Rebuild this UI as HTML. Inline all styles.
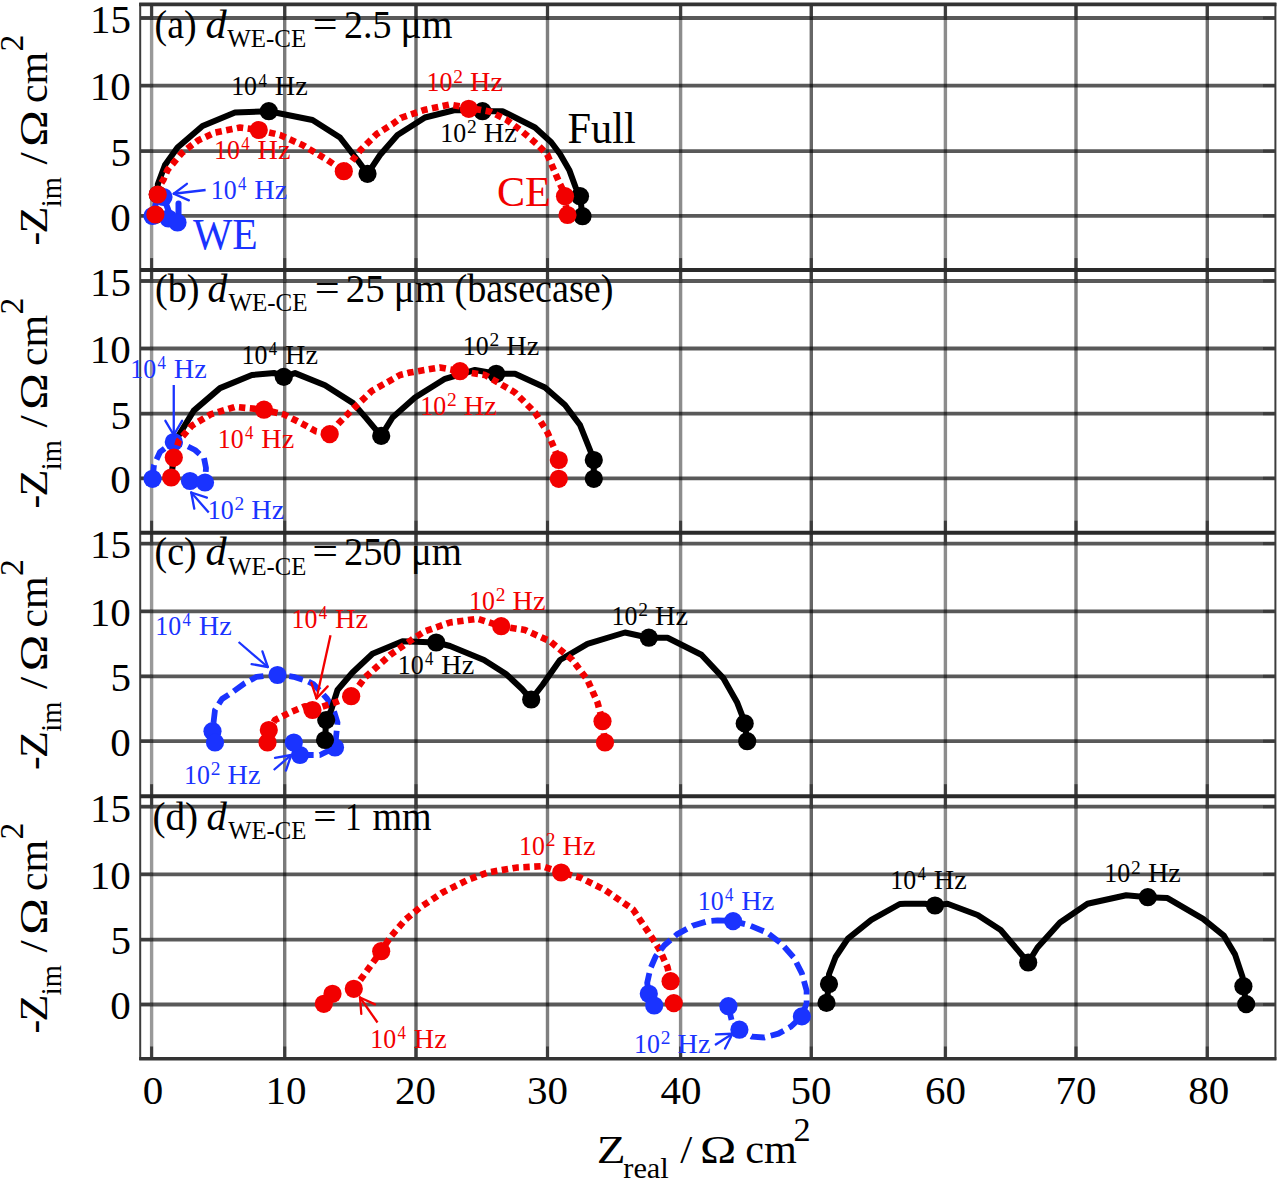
<!DOCTYPE html>
<html><head><meta charset="utf-8"><style>
html,body{margin:0;padding:0;background:#fff;}
svg{display:block;}
#w{width:1280px;height:1179px;}
text{font-family:"Liberation Serif",serif;}
</style></head><body>
<div id="w"><svg width="1280" height="1179" viewBox="0 0 1280 1179">
<rect width="1280" height="1179" fill="#fff"/>
<line x1="151.6" y1="4.4" x2="151.6" y2="1058.5" stroke="#000" stroke-opacity="0.4" stroke-width="3.4"/>
<line x1="284.7" y1="4.4" x2="284.7" y2="1058.5" stroke="#000" stroke-opacity="0.52" stroke-width="3.4"/>
<line x1="416.0" y1="4.4" x2="416.0" y2="1058.5" stroke="#000" stroke-opacity="0.58" stroke-width="3.4"/>
<line x1="547.5" y1="4.4" x2="547.5" y2="1058.5" stroke="#000" stroke-opacity="0.5" stroke-width="3.4"/>
<line x1="680.6" y1="4.4" x2="680.6" y2="1058.5" stroke="#000" stroke-opacity="0.45" stroke-width="3.4"/>
<line x1="811.3" y1="4.4" x2="811.3" y2="1058.5" stroke="#000" stroke-opacity="0.6" stroke-width="3.4"/>
<line x1="945.4" y1="4.4" x2="945.4" y2="1058.5" stroke="#000" stroke-opacity="0.45" stroke-width="3.4"/>
<line x1="1076.0" y1="4.4" x2="1076.0" y2="1058.5" stroke="#000" stroke-opacity="0.5" stroke-width="3.4"/>
<line x1="1207.3" y1="4.4" x2="1207.3" y2="1058.5" stroke="#000" stroke-opacity="0.56" stroke-width="3.4"/>
<line x1="140.2" y1="18.0" x2="1275.0" y2="18.0" stroke="#000" stroke-opacity="0.65" stroke-width="3.8"/>
<line x1="140.2" y1="85.6" x2="1275.0" y2="85.6" stroke="#000" stroke-opacity="0.65" stroke-width="3.8"/>
<line x1="140.2" y1="151.1" x2="1275.0" y2="151.1" stroke="#000" stroke-opacity="0.65" stroke-width="3.8"/>
<line x1="140.2" y1="215.8" x2="1275.0" y2="215.8" stroke="#000" stroke-opacity="0.65" stroke-width="3.8"/>
<line x1="140.2" y1="281.0" x2="1275.0" y2="281.0" stroke="#000" stroke-opacity="0.65" stroke-width="3.8"/>
<line x1="140.2" y1="348.5" x2="1275.0" y2="348.5" stroke="#000" stroke-opacity="0.65" stroke-width="3.8"/>
<line x1="140.2" y1="413.7" x2="1275.0" y2="413.7" stroke="#000" stroke-opacity="0.65" stroke-width="3.8"/>
<line x1="140.2" y1="478.3" x2="1275.0" y2="478.3" stroke="#000" stroke-opacity="0.65" stroke-width="3.8"/>
<line x1="140.2" y1="543.6" x2="1275.0" y2="543.6" stroke="#000" stroke-opacity="0.65" stroke-width="3.8"/>
<line x1="140.2" y1="611.4" x2="1275.0" y2="611.4" stroke="#000" stroke-opacity="0.65" stroke-width="3.8"/>
<line x1="140.2" y1="676.3" x2="1275.0" y2="676.3" stroke="#000" stroke-opacity="0.65" stroke-width="3.8"/>
<line x1="140.2" y1="741.2" x2="1275.0" y2="741.2" stroke="#000" stroke-opacity="0.65" stroke-width="3.8"/>
<line x1="140.2" y1="806.7" x2="1275.0" y2="806.7" stroke="#000" stroke-opacity="0.65" stroke-width="3.8"/>
<line x1="140.2" y1="874.3" x2="1275.0" y2="874.3" stroke="#000" stroke-opacity="0.65" stroke-width="3.8"/>
<line x1="140.2" y1="939.6" x2="1275.0" y2="939.6" stroke="#000" stroke-opacity="0.65" stroke-width="3.8"/>
<line x1="140.2" y1="1004.5" x2="1275.0" y2="1004.5" stroke="#000" stroke-opacity="0.65" stroke-width="3.8"/>
<line x1="140.2" y1="18.0" x2="152.2" y2="18.0" stroke="#3c3c3c" stroke-width="3"/>
<line x1="1263.0" y1="18.0" x2="1275.0" y2="18.0" stroke="#3c3c3c" stroke-width="3"/>
<line x1="140.2" y1="85.6" x2="152.2" y2="85.6" stroke="#3c3c3c" stroke-width="3"/>
<line x1="1263.0" y1="85.6" x2="1275.0" y2="85.6" stroke="#3c3c3c" stroke-width="3"/>
<line x1="140.2" y1="151.1" x2="152.2" y2="151.1" stroke="#3c3c3c" stroke-width="3"/>
<line x1="1263.0" y1="151.1" x2="1275.0" y2="151.1" stroke="#3c3c3c" stroke-width="3"/>
<line x1="140.2" y1="215.8" x2="152.2" y2="215.8" stroke="#3c3c3c" stroke-width="3"/>
<line x1="1263.0" y1="215.8" x2="1275.0" y2="215.8" stroke="#3c3c3c" stroke-width="3"/>
<line x1="151.6" y1="270.1" x2="151.6" y2="258.1" stroke="#3c3c3c" stroke-width="3"/>
<line x1="151.6" y1="4.4" x2="151.6" y2="16.4" stroke="#3c3c3c" stroke-width="3"/>
<line x1="284.7" y1="270.1" x2="284.7" y2="258.1" stroke="#3c3c3c" stroke-width="3"/>
<line x1="284.7" y1="4.4" x2="284.7" y2="16.4" stroke="#3c3c3c" stroke-width="3"/>
<line x1="416.0" y1="270.1" x2="416.0" y2="258.1" stroke="#3c3c3c" stroke-width="3"/>
<line x1="416.0" y1="4.4" x2="416.0" y2="16.4" stroke="#3c3c3c" stroke-width="3"/>
<line x1="547.5" y1="270.1" x2="547.5" y2="258.1" stroke="#3c3c3c" stroke-width="3"/>
<line x1="547.5" y1="4.4" x2="547.5" y2="16.4" stroke="#3c3c3c" stroke-width="3"/>
<line x1="680.6" y1="270.1" x2="680.6" y2="258.1" stroke="#3c3c3c" stroke-width="3"/>
<line x1="680.6" y1="4.4" x2="680.6" y2="16.4" stroke="#3c3c3c" stroke-width="3"/>
<line x1="811.3" y1="270.1" x2="811.3" y2="258.1" stroke="#3c3c3c" stroke-width="3"/>
<line x1="811.3" y1="4.4" x2="811.3" y2="16.4" stroke="#3c3c3c" stroke-width="3"/>
<line x1="945.4" y1="270.1" x2="945.4" y2="258.1" stroke="#3c3c3c" stroke-width="3"/>
<line x1="945.4" y1="4.4" x2="945.4" y2="16.4" stroke="#3c3c3c" stroke-width="3"/>
<line x1="1076.0" y1="270.1" x2="1076.0" y2="258.1" stroke="#3c3c3c" stroke-width="3"/>
<line x1="1076.0" y1="4.4" x2="1076.0" y2="16.4" stroke="#3c3c3c" stroke-width="3"/>
<line x1="1207.3" y1="270.1" x2="1207.3" y2="258.1" stroke="#3c3c3c" stroke-width="3"/>
<line x1="1207.3" y1="4.4" x2="1207.3" y2="16.4" stroke="#3c3c3c" stroke-width="3"/>
<line x1="140.2" y1="281.0" x2="152.2" y2="281.0" stroke="#3c3c3c" stroke-width="3"/>
<line x1="1263.0" y1="281.0" x2="1275.0" y2="281.0" stroke="#3c3c3c" stroke-width="3"/>
<line x1="140.2" y1="348.5" x2="152.2" y2="348.5" stroke="#3c3c3c" stroke-width="3"/>
<line x1="1263.0" y1="348.5" x2="1275.0" y2="348.5" stroke="#3c3c3c" stroke-width="3"/>
<line x1="140.2" y1="413.7" x2="152.2" y2="413.7" stroke="#3c3c3c" stroke-width="3"/>
<line x1="1263.0" y1="413.7" x2="1275.0" y2="413.7" stroke="#3c3c3c" stroke-width="3"/>
<line x1="140.2" y1="478.3" x2="152.2" y2="478.3" stroke="#3c3c3c" stroke-width="3"/>
<line x1="1263.0" y1="478.3" x2="1275.0" y2="478.3" stroke="#3c3c3c" stroke-width="3"/>
<line x1="151.6" y1="532.7" x2="151.6" y2="520.7" stroke="#3c3c3c" stroke-width="3"/>
<line x1="151.6" y1="270.1" x2="151.6" y2="282.1" stroke="#3c3c3c" stroke-width="3"/>
<line x1="284.7" y1="532.7" x2="284.7" y2="520.7" stroke="#3c3c3c" stroke-width="3"/>
<line x1="284.7" y1="270.1" x2="284.7" y2="282.1" stroke="#3c3c3c" stroke-width="3"/>
<line x1="416.0" y1="532.7" x2="416.0" y2="520.7" stroke="#3c3c3c" stroke-width="3"/>
<line x1="416.0" y1="270.1" x2="416.0" y2="282.1" stroke="#3c3c3c" stroke-width="3"/>
<line x1="547.5" y1="532.7" x2="547.5" y2="520.7" stroke="#3c3c3c" stroke-width="3"/>
<line x1="547.5" y1="270.1" x2="547.5" y2="282.1" stroke="#3c3c3c" stroke-width="3"/>
<line x1="680.6" y1="532.7" x2="680.6" y2="520.7" stroke="#3c3c3c" stroke-width="3"/>
<line x1="680.6" y1="270.1" x2="680.6" y2="282.1" stroke="#3c3c3c" stroke-width="3"/>
<line x1="811.3" y1="532.7" x2="811.3" y2="520.7" stroke="#3c3c3c" stroke-width="3"/>
<line x1="811.3" y1="270.1" x2="811.3" y2="282.1" stroke="#3c3c3c" stroke-width="3"/>
<line x1="945.4" y1="532.7" x2="945.4" y2="520.7" stroke="#3c3c3c" stroke-width="3"/>
<line x1="945.4" y1="270.1" x2="945.4" y2="282.1" stroke="#3c3c3c" stroke-width="3"/>
<line x1="1076.0" y1="532.7" x2="1076.0" y2="520.7" stroke="#3c3c3c" stroke-width="3"/>
<line x1="1076.0" y1="270.1" x2="1076.0" y2="282.1" stroke="#3c3c3c" stroke-width="3"/>
<line x1="1207.3" y1="532.7" x2="1207.3" y2="520.7" stroke="#3c3c3c" stroke-width="3"/>
<line x1="1207.3" y1="270.1" x2="1207.3" y2="282.1" stroke="#3c3c3c" stroke-width="3"/>
<line x1="140.2" y1="543.6" x2="152.2" y2="543.6" stroke="#3c3c3c" stroke-width="3"/>
<line x1="1263.0" y1="543.6" x2="1275.0" y2="543.6" stroke="#3c3c3c" stroke-width="3"/>
<line x1="140.2" y1="611.4" x2="152.2" y2="611.4" stroke="#3c3c3c" stroke-width="3"/>
<line x1="1263.0" y1="611.4" x2="1275.0" y2="611.4" stroke="#3c3c3c" stroke-width="3"/>
<line x1="140.2" y1="676.3" x2="152.2" y2="676.3" stroke="#3c3c3c" stroke-width="3"/>
<line x1="1263.0" y1="676.3" x2="1275.0" y2="676.3" stroke="#3c3c3c" stroke-width="3"/>
<line x1="140.2" y1="741.2" x2="152.2" y2="741.2" stroke="#3c3c3c" stroke-width="3"/>
<line x1="1263.0" y1="741.2" x2="1275.0" y2="741.2" stroke="#3c3c3c" stroke-width="3"/>
<line x1="151.6" y1="796.2" x2="151.6" y2="784.2" stroke="#3c3c3c" stroke-width="3"/>
<line x1="151.6" y1="532.7" x2="151.6" y2="544.7" stroke="#3c3c3c" stroke-width="3"/>
<line x1="284.7" y1="796.2" x2="284.7" y2="784.2" stroke="#3c3c3c" stroke-width="3"/>
<line x1="284.7" y1="532.7" x2="284.7" y2="544.7" stroke="#3c3c3c" stroke-width="3"/>
<line x1="416.0" y1="796.2" x2="416.0" y2="784.2" stroke="#3c3c3c" stroke-width="3"/>
<line x1="416.0" y1="532.7" x2="416.0" y2="544.7" stroke="#3c3c3c" stroke-width="3"/>
<line x1="547.5" y1="796.2" x2="547.5" y2="784.2" stroke="#3c3c3c" stroke-width="3"/>
<line x1="547.5" y1="532.7" x2="547.5" y2="544.7" stroke="#3c3c3c" stroke-width="3"/>
<line x1="680.6" y1="796.2" x2="680.6" y2="784.2" stroke="#3c3c3c" stroke-width="3"/>
<line x1="680.6" y1="532.7" x2="680.6" y2="544.7" stroke="#3c3c3c" stroke-width="3"/>
<line x1="811.3" y1="796.2" x2="811.3" y2="784.2" stroke="#3c3c3c" stroke-width="3"/>
<line x1="811.3" y1="532.7" x2="811.3" y2="544.7" stroke="#3c3c3c" stroke-width="3"/>
<line x1="945.4" y1="796.2" x2="945.4" y2="784.2" stroke="#3c3c3c" stroke-width="3"/>
<line x1="945.4" y1="532.7" x2="945.4" y2="544.7" stroke="#3c3c3c" stroke-width="3"/>
<line x1="1076.0" y1="796.2" x2="1076.0" y2="784.2" stroke="#3c3c3c" stroke-width="3"/>
<line x1="1076.0" y1="532.7" x2="1076.0" y2="544.7" stroke="#3c3c3c" stroke-width="3"/>
<line x1="1207.3" y1="796.2" x2="1207.3" y2="784.2" stroke="#3c3c3c" stroke-width="3"/>
<line x1="1207.3" y1="532.7" x2="1207.3" y2="544.7" stroke="#3c3c3c" stroke-width="3"/>
<line x1="140.2" y1="806.7" x2="152.2" y2="806.7" stroke="#3c3c3c" stroke-width="3"/>
<line x1="1263.0" y1="806.7" x2="1275.0" y2="806.7" stroke="#3c3c3c" stroke-width="3"/>
<line x1="140.2" y1="874.3" x2="152.2" y2="874.3" stroke="#3c3c3c" stroke-width="3"/>
<line x1="1263.0" y1="874.3" x2="1275.0" y2="874.3" stroke="#3c3c3c" stroke-width="3"/>
<line x1="140.2" y1="939.6" x2="152.2" y2="939.6" stroke="#3c3c3c" stroke-width="3"/>
<line x1="1263.0" y1="939.6" x2="1275.0" y2="939.6" stroke="#3c3c3c" stroke-width="3"/>
<line x1="140.2" y1="1004.5" x2="152.2" y2="1004.5" stroke="#3c3c3c" stroke-width="3"/>
<line x1="1263.0" y1="1004.5" x2="1275.0" y2="1004.5" stroke="#3c3c3c" stroke-width="3"/>
<line x1="151.6" y1="1058.5" x2="151.6" y2="1046.5" stroke="#3c3c3c" stroke-width="3"/>
<line x1="151.6" y1="796.2" x2="151.6" y2="808.2" stroke="#3c3c3c" stroke-width="3"/>
<line x1="284.7" y1="1058.5" x2="284.7" y2="1046.5" stroke="#3c3c3c" stroke-width="3"/>
<line x1="284.7" y1="796.2" x2="284.7" y2="808.2" stroke="#3c3c3c" stroke-width="3"/>
<line x1="416.0" y1="1058.5" x2="416.0" y2="1046.5" stroke="#3c3c3c" stroke-width="3"/>
<line x1="416.0" y1="796.2" x2="416.0" y2="808.2" stroke="#3c3c3c" stroke-width="3"/>
<line x1="547.5" y1="1058.5" x2="547.5" y2="1046.5" stroke="#3c3c3c" stroke-width="3"/>
<line x1="547.5" y1="796.2" x2="547.5" y2="808.2" stroke="#3c3c3c" stroke-width="3"/>
<line x1="680.6" y1="1058.5" x2="680.6" y2="1046.5" stroke="#3c3c3c" stroke-width="3"/>
<line x1="680.6" y1="796.2" x2="680.6" y2="808.2" stroke="#3c3c3c" stroke-width="3"/>
<line x1="811.3" y1="1058.5" x2="811.3" y2="1046.5" stroke="#3c3c3c" stroke-width="3"/>
<line x1="811.3" y1="796.2" x2="811.3" y2="808.2" stroke="#3c3c3c" stroke-width="3"/>
<line x1="945.4" y1="1058.5" x2="945.4" y2="1046.5" stroke="#3c3c3c" stroke-width="3"/>
<line x1="945.4" y1="796.2" x2="945.4" y2="808.2" stroke="#3c3c3c" stroke-width="3"/>
<line x1="1076.0" y1="1058.5" x2="1076.0" y2="1046.5" stroke="#3c3c3c" stroke-width="3"/>
<line x1="1076.0" y1="796.2" x2="1076.0" y2="808.2" stroke="#3c3c3c" stroke-width="3"/>
<line x1="1207.3" y1="1058.5" x2="1207.3" y2="1046.5" stroke="#3c3c3c" stroke-width="3"/>
<line x1="1207.3" y1="796.2" x2="1207.3" y2="808.2" stroke="#3c3c3c" stroke-width="3"/>
<line x1="140.2" y1="2.9000000000000004" x2="140.2" y2="1060.0" stroke="#3c3c3c" stroke-width="2"/>
<line x1="1275.4" y1="2.9000000000000004" x2="1275.4" y2="1060.0" stroke="#3c3c3c" stroke-width="2"/>
<line x1="139.2" y1="4.4" x2="1276.4" y2="4.4" stroke="#333" stroke-width="3.6"/>
<line x1="139.2" y1="1058.8" x2="1276.4" y2="1058.8" stroke="#333" stroke-width="3.6"/>
<line x1="140.2" y1="270.1" x2="1275.0" y2="270.1" stroke="#2a2a2a" stroke-width="4"/>
<line x1="140.2" y1="532.7" x2="1275.0" y2="532.7" stroke="#2a2a2a" stroke-width="4"/>
<line x1="140.2" y1="796.2" x2="1275.0" y2="796.2" stroke="#2a2a2a" stroke-width="4"/>
<text x="89.90" y="32.80" font-size="41" fill="#000">15</text>
<text x="89.86" y="100.40" font-size="41" fill="#000">10</text>
<text x="110.40" y="165.90" font-size="41" fill="#000">5</text>
<text x="110.36" y="230.60" font-size="41" fill="#000">0</text>
<text x="89.90" y="295.80" font-size="41" fill="#000">15</text>
<text x="89.86" y="363.30" font-size="41" fill="#000">10</text>
<text x="110.40" y="428.50" font-size="41" fill="#000">5</text>
<text x="110.36" y="493.10" font-size="41" fill="#000">0</text>
<text x="89.90" y="558.40" font-size="41" fill="#000">15</text>
<text x="89.86" y="626.20" font-size="41" fill="#000">10</text>
<text x="110.40" y="691.10" font-size="41" fill="#000">5</text>
<text x="110.36" y="756.00" font-size="41" fill="#000">0</text>
<text x="89.90" y="821.50" font-size="41" fill="#000">15</text>
<text x="89.86" y="889.10" font-size="41" fill="#000">10</text>
<text x="110.40" y="954.40" font-size="41" fill="#000">5</text>
<text x="110.36" y="1019.30" font-size="41" fill="#000">0</text>
<text x="142.85" y="1103.60" font-size="41" fill="#000">0</text>
<text x="265.38" y="1103.60" font-size="41" fill="#000">10</text>
<text x="394.98" y="1103.60" font-size="41" fill="#000">20</text>
<text x="527.10" y="1103.60" font-size="41" fill="#000">30</text>
<text x="660.58" y="1103.60" font-size="41" fill="#000">40</text>
<text x="790.59" y="1103.60" font-size="41" fill="#000">50</text>
<text x="925.10" y="1103.60" font-size="41" fill="#000">60</text>
<text x="1055.43" y="1103.60" font-size="41" fill="#000">70</text>
<text x="1188.20" y="1103.60" font-size="41" fill="#000">80</text>
<text x="596.74" y="1162.50" font-size="41" fill="#000" textLength="28.84" lengthAdjust="spacingAndGlyphs">Z</text>
<text x="623.29" y="1177.50" font-size="30" fill="#000" textLength="45.52" lengthAdjust="spacingAndGlyphs">real</text>
<text x="680.20" y="1162.50" font-size="41" fill="#000" textLength="12.00" lengthAdjust="spacingAndGlyphs">/</text>
<text x="699.98" y="1162.50" font-size="41" fill="#000" textLength="36.25" lengthAdjust="spacingAndGlyphs">Ω</text>
<text x="745.29" y="1162.50" font-size="41" fill="#000" textLength="51.57" lengthAdjust="spacingAndGlyphs">cm</text>
<text x="793.49" y="1140.60" font-size="33" fill="#000" textLength="17.15" lengthAdjust="spacingAndGlyphs">2</text>
<g transform="translate(46.5,244.0) rotate(-90)">
<text x="-1.53" y="0.00" font-size="41" fill="#000" textLength="13.72" lengthAdjust="spacingAndGlyphs">-</text>
<text x="10.48" y="0.00" font-size="41" fill="#000" textLength="27.04" lengthAdjust="spacingAndGlyphs">Z</text>
<text x="36.80" y="14.80" font-size="30" fill="#000" textLength="30.04" lengthAdjust="spacingAndGlyphs">im</text>
<text x="79.40" y="0.00" font-size="41" fill="#000" textLength="12.20" lengthAdjust="spacingAndGlyphs">/</text>
<text x="97.25" y="0.00" font-size="41" fill="#000" textLength="36.60" lengthAdjust="spacingAndGlyphs">Ω</text>
<text x="140.91" y="0.00" font-size="41" fill="#000" textLength="51.15" lengthAdjust="spacingAndGlyphs">cm</text>
<text x="192.52" y="-23.10" font-size="33" fill="#000" textLength="16.84" lengthAdjust="spacingAndGlyphs">2</text>
</g>
<g transform="translate(46.5,507.0) rotate(-90)">
<text x="-1.53" y="0.00" font-size="41" fill="#000" textLength="13.72" lengthAdjust="spacingAndGlyphs">-</text>
<text x="10.48" y="0.00" font-size="41" fill="#000" textLength="27.04" lengthAdjust="spacingAndGlyphs">Z</text>
<text x="36.80" y="14.80" font-size="30" fill="#000" textLength="30.04" lengthAdjust="spacingAndGlyphs">im</text>
<text x="79.40" y="0.00" font-size="41" fill="#000" textLength="12.20" lengthAdjust="spacingAndGlyphs">/</text>
<text x="97.25" y="0.00" font-size="41" fill="#000" textLength="36.60" lengthAdjust="spacingAndGlyphs">Ω</text>
<text x="140.91" y="0.00" font-size="41" fill="#000" textLength="51.15" lengthAdjust="spacingAndGlyphs">cm</text>
<text x="192.52" y="-23.10" font-size="33" fill="#000" textLength="16.84" lengthAdjust="spacingAndGlyphs">2</text>
</g>
<g transform="translate(46.5,768.5) rotate(-90)">
<text x="-1.53" y="0.00" font-size="41" fill="#000" textLength="13.72" lengthAdjust="spacingAndGlyphs">-</text>
<text x="10.48" y="0.00" font-size="41" fill="#000" textLength="27.04" lengthAdjust="spacingAndGlyphs">Z</text>
<text x="36.80" y="14.80" font-size="30" fill="#000" textLength="30.04" lengthAdjust="spacingAndGlyphs">im</text>
<text x="79.40" y="0.00" font-size="41" fill="#000" textLength="12.20" lengthAdjust="spacingAndGlyphs">/</text>
<text x="97.25" y="0.00" font-size="41" fill="#000" textLength="36.60" lengthAdjust="spacingAndGlyphs">Ω</text>
<text x="140.91" y="0.00" font-size="41" fill="#000" textLength="51.15" lengthAdjust="spacingAndGlyphs">cm</text>
<text x="192.52" y="-23.10" font-size="33" fill="#000" textLength="16.84" lengthAdjust="spacingAndGlyphs">2</text>
</g>
<g transform="translate(46.5,1032.0) rotate(-90)">
<text x="-1.53" y="0.00" font-size="41" fill="#000" textLength="13.72" lengthAdjust="spacingAndGlyphs">-</text>
<text x="10.48" y="0.00" font-size="41" fill="#000" textLength="27.04" lengthAdjust="spacingAndGlyphs">Z</text>
<text x="36.80" y="14.80" font-size="30" fill="#000" textLength="30.04" lengthAdjust="spacingAndGlyphs">im</text>
<text x="79.40" y="0.00" font-size="41" fill="#000" textLength="12.20" lengthAdjust="spacingAndGlyphs">/</text>
<text x="97.25" y="0.00" font-size="41" fill="#000" textLength="36.60" lengthAdjust="spacingAndGlyphs">Ω</text>
<text x="140.91" y="0.00" font-size="41" fill="#000" textLength="51.15" lengthAdjust="spacingAndGlyphs">cm</text>
<text x="192.52" y="-23.10" font-size="33" fill="#000" textLength="16.84" lengthAdjust="spacingAndGlyphs">2</text>
</g>
<text x="154.58" y="38.20" font-size="40" fill="#000" textLength="42.08" lengthAdjust="spacingAndGlyphs">(a)</text>
<text x="205.62" y="38.20" font-size="40" fill="#000" font-style="italic" textLength="21.18" lengthAdjust="spacingAndGlyphs">d</text>
<text x="227.18" y="47.40" font-size="26" fill="#000" textLength="79.07" lengthAdjust="spacingAndGlyphs">WE-CE</text>
<text x="312.81" y="38.20" font-size="40" fill="#000" textLength="24.85" lengthAdjust="spacingAndGlyphs">=</text>
<text x="343.93" y="38.20" font-size="40" fill="#000" textLength="47.56" lengthAdjust="spacingAndGlyphs">2.5</text>
<text x="400.54" y="38.20" font-size="40" fill="#000" textLength="51.97" lengthAdjust="spacingAndGlyphs">μm</text>
<text x="154.92" y="302.00" font-size="40" fill="#000" textLength="44.56" lengthAdjust="spacingAndGlyphs">(b)</text>
<text x="207.55" y="302.00" font-size="40" fill="#000" font-style="italic" textLength="19.86" lengthAdjust="spacingAndGlyphs">d</text>
<text x="228.38" y="311.20" font-size="26" fill="#000" textLength="79.12" lengthAdjust="spacingAndGlyphs">WE-CE</text>
<text x="314.70" y="302.00" font-size="40" fill="#000" textLength="24.97" lengthAdjust="spacingAndGlyphs">=</text>
<text x="345.79" y="302.00" font-size="40" fill="#000" textLength="38.82" lengthAdjust="spacingAndGlyphs">25</text>
<text x="393.74" y="302.00" font-size="40" fill="#000" textLength="51.27" lengthAdjust="spacingAndGlyphs">μm</text>
<text x="454.57" y="302.00" font-size="40" fill="#000" textLength="158.90" lengthAdjust="spacingAndGlyphs">(basecase)</text>
<text x="154.58" y="565.30" font-size="40" fill="#000" textLength="42.08" lengthAdjust="spacingAndGlyphs">(c)</text>
<text x="205.62" y="565.30" font-size="40" fill="#000" font-style="italic" textLength="21.18" lengthAdjust="spacingAndGlyphs">d</text>
<text x="228.08" y="574.50" font-size="26" fill="#000" textLength="78.15" lengthAdjust="spacingAndGlyphs">WE-CE</text>
<text x="312.32" y="565.30" font-size="40" fill="#000" textLength="25.81" lengthAdjust="spacingAndGlyphs">=</text>
<text x="344.11" y="565.30" font-size="40" fill="#000" textLength="57.65" lengthAdjust="spacingAndGlyphs">250</text>
<text x="411.06" y="565.30" font-size="40" fill="#000" textLength="50.95" lengthAdjust="spacingAndGlyphs">μm</text>
<text x="152.38" y="829.50" font-size="40" fill="#000" textLength="45.75" lengthAdjust="spacingAndGlyphs">(d)</text>
<text x="206.57" y="829.50" font-size="40" fill="#000" font-style="italic" textLength="20.33" lengthAdjust="spacingAndGlyphs">d</text>
<text x="228.18" y="838.70" font-size="26" fill="#000" textLength="78.26" lengthAdjust="spacingAndGlyphs">WE-CE</text>
<text x="313.35" y="829.50" font-size="40" fill="#000" textLength="23.27" lengthAdjust="spacingAndGlyphs">=</text>
<text x="345.35" y="829.50" font-size="40" fill="#000" textLength="16.19" lengthAdjust="spacingAndGlyphs">1</text>
<text x="372.40" y="829.50" font-size="40" fill="#000" textLength="59.19" lengthAdjust="spacingAndGlyphs">mm</text>
<polyline points="157.8,194.5 157.8,184.3 165.0,165.0 177.5,147.5 202.5,126.0 235.0,112.5 268.8,111.2 312.5,120.0 340.0,137.5 357.5,160.0 367.5,173.8 380.0,155.0 397.5,135.0 425.0,117.5 455.0,110.0 482.5,111.2 502.5,111.2 535.0,127.5 551.2,142.2 560.0,154.0 569.5,170.6 575.5,187.0 580.0,196.2 582.5,216.2" fill="none" stroke="#000" stroke-width="6.0" stroke-linejoin="round" stroke-linecap="round"/>
<circle cx="155.3" cy="214.8" r="9.1" fill="#000"/>
<circle cx="157.8" cy="194.5" r="9.1" fill="#000"/>
<circle cx="268.8" cy="111.2" r="9.1" fill="#000"/>
<circle cx="367.5" cy="173.8" r="9.1" fill="#000"/>
<circle cx="482.5" cy="111.2" r="9.1" fill="#000"/>
<circle cx="580.0" cy="196.2" r="9.1" fill="#000"/>
<circle cx="582.5" cy="216.2" r="9.1" fill="#000"/>
<polyline points="155.3,214.8 157.8,194.5 160.0,185.0 163.3,180.0 167.6,169.9 174.4,161.8 181.6,153.3 190.0,146.5 198.5,140.2 215.0,132.5 240.0,127.5 258.8,130.0 280.0,135.0 302.5,145.0 327.5,160.0 343.8,171.2 352.2,160.5 360.3,150.3 376.6,134.1 392.8,123.9 400.9,117.8 425.3,109.7 449.7,104.6 468.0,107.7 490.3,111.7 506.6,119.8 522.8,132.0 537.0,144.2 547.2,154.4 553.3,168.6 559.4,182.8 563.4,191.0 564.5,197.0 567.5,215.3" fill="none" stroke="#f20000" stroke-width="6.6" stroke-dasharray="6.4 4.5" stroke-linejoin="round" stroke-linecap="butt"/>
<polyline points="152.5,216 156,203 163.5,197 169,212" fill="none" stroke="#1a33ff" stroke-width="6" stroke-linejoin="round"/>
<line x1="178.5" y1="203.5" x2="178.5" y2="214" stroke="#1a33ff" stroke-width="6" stroke-linecap="round"/>
<circle cx="152.5" cy="216.0" r="9.1" fill="#1a33ff"/>
<circle cx="163.5" cy="197.0" r="9.1" fill="#1a33ff"/>
<circle cx="168.5" cy="218.5" r="9.1" fill="#1a33ff"/>
<circle cx="177.5" cy="222.5" r="9.1" fill="#1a33ff"/>
<circle cx="155.4" cy="214.5" r="9.1" fill="#f20000"/>
<circle cx="157.7" cy="194.5" r="9.1" fill="#f20000"/>
<circle cx="258.8" cy="130.0" r="9.1" fill="#f20000"/>
<circle cx="343.8" cy="171.2" r="9.1" fill="#f20000"/>
<circle cx="468.8" cy="108.8" r="9.1" fill="#f20000"/>
<circle cx="565.0" cy="196.2" r="9.1" fill="#f20000"/>
<circle cx="567.5" cy="215.0" r="9.1" fill="#f20000"/>
<text x="231.13" y="95.20" font-size="28" fill="#000" textLength="25.86" lengthAdjust="spacingAndGlyphs">10</text>
<text x="258.47" y="86.50" font-size="18" fill="#000" textLength="8.39" lengthAdjust="spacingAndGlyphs">4</text>
<text x="274.79" y="95.20" font-size="28" fill="#000" textLength="32.90" lengthAdjust="spacingAndGlyphs">Hz</text>
<text x="213.98" y="158.75" font-size="28" fill="#f20000" textLength="25.86" lengthAdjust="spacingAndGlyphs">10</text>
<text x="241.32" y="150.05" font-size="18" fill="#f20000" textLength="8.39" lengthAdjust="spacingAndGlyphs">4</text>
<text x="257.64" y="158.75" font-size="28" fill="#f20000" textLength="32.90" lengthAdjust="spacingAndGlyphs">Hz</text>
<text x="210.73" y="199.00" font-size="28" fill="#1a33ff" textLength="25.86" lengthAdjust="spacingAndGlyphs">10</text>
<text x="238.07" y="190.30" font-size="18" fill="#1a33ff" textLength="8.39" lengthAdjust="spacingAndGlyphs">4</text>
<text x="254.39" y="199.00" font-size="28" fill="#1a33ff" textLength="32.90" lengthAdjust="spacingAndGlyphs">Hz</text>
<line x1="205.6" y1="190" x2="173.75" y2="193.75" stroke="#1a33ff" stroke-width="2.3"/>
<line x1="173.75" y1="193.75" x2="186.9" y2="183.8" stroke="#1a33ff" stroke-width="2.3" stroke-linecap="round"/>
<line x1="173.75" y1="193.75" x2="188.9" y2="200.4" stroke="#1a33ff" stroke-width="2.3" stroke-linecap="round"/>
<text x="426.48" y="91.25" font-size="28" fill="#f20000" textLength="25.86" lengthAdjust="spacingAndGlyphs">10</text>
<text x="453.29" y="82.55" font-size="18" fill="#f20000" textLength="9.73" lengthAdjust="spacingAndGlyphs">2</text>
<text x="470.14" y="91.25" font-size="28" fill="#f20000" textLength="32.90" lengthAdjust="spacingAndGlyphs">Hz</text>
<text x="440.23" y="142.00" font-size="28" fill="#000" textLength="25.86" lengthAdjust="spacingAndGlyphs">10</text>
<text x="467.04" y="133.30" font-size="18" fill="#000" textLength="9.73" lengthAdjust="spacingAndGlyphs">2</text>
<text x="483.89" y="142.00" font-size="28" fill="#000" textLength="32.90" lengthAdjust="spacingAndGlyphs">Hz</text>
<text x="192.96" y="249.40" font-size="44" fill="#1a33ff" textLength="64.71" lengthAdjust="spacingAndGlyphs">WE</text>
<text x="567.53" y="142.50" font-size="44" fill="#000" textLength="68.32" lengthAdjust="spacingAndGlyphs">Full</text>
<text x="497.02" y="206.25" font-size="43" fill="#f20000" textLength="53.83" lengthAdjust="spacingAndGlyphs">CE</text>
<polyline points="171.2,477.5 173.8,457.5 177.8,436.9 193.8,410.6 220.0,388.1 251.9,375.0 274.4,373.1 283.8,376.9 295.0,373.1 325.0,385.3 353.1,403.1 366.2,418.1 375.6,429.4 381.2,435.9 392.5,417.5 415.0,397.5 445.0,378.8 475.0,370.0 496.2,373.8 515.0,373.8 545.0,387.5 565.0,405.0 580.0,425.0 590.0,450.0 593.8,460.0 593.8,478.8" fill="none" stroke="#000" stroke-width="6.0" stroke-linejoin="round" stroke-linecap="round"/>
<circle cx="283.8" cy="376.9" r="9.1" fill="#000"/>
<circle cx="381.2" cy="435.9" r="9.1" fill="#000"/>
<circle cx="496.2" cy="373.8" r="9.1" fill="#000"/>
<circle cx="593.8" cy="460.0" r="9.1" fill="#000"/>
<circle cx="593.8" cy="478.8" r="9.1" fill="#000"/>
<polyline points="152.5,478.8 154.0,465.0 160.0,452.0 172.5,442.5 185.0,445.0 195.0,450.0 204.0,458.0 206.0,468.0 205.0,482.5 190.0,481.0" fill="none" stroke="#1a33ff" stroke-width="5.8" stroke-dasharray="14 6" stroke-linejoin="round" stroke-linecap="butt"/>
<circle cx="152.5" cy="478.8" r="9.1" fill="#1a33ff"/>
<circle cx="190.0" cy="481.0" r="9.1" fill="#1a33ff"/>
<circle cx="205.0" cy="482.5" r="9.1" fill="#1a33ff"/>
<circle cx="173.8" cy="442.0" r="9.1" fill="#1a33ff"/>
<polyline points="171.2,477.5 173.8,457.5 178.8,440.6 191.9,425.6 210.6,414.4 235.0,406.9 264.0,409.7 283.8,414.4 302.5,423.8 315.6,431.2 329.7,434.1 338.1,423.8 353.1,408.8 371.9,390.9 400.0,375.0 410.0,372.5 440.0,367.5 460.0,371.2 485.0,375.0 515.0,392.5 535.0,412.5 547.5,432.5 555.0,450.0 558.8,460.0 558.8,478.8" fill="none" stroke="#f20000" stroke-width="6.6" stroke-dasharray="6.4 4.5" stroke-linejoin="round" stroke-linecap="butt"/>
<circle cx="171.2" cy="477.5" r="9.1" fill="#f20000"/>
<circle cx="173.8" cy="457.5" r="9.1" fill="#f20000"/>
<circle cx="264.0" cy="409.7" r="9.1" fill="#f20000"/>
<circle cx="329.7" cy="434.1" r="9.1" fill="#f20000"/>
<circle cx="460.0" cy="371.2" r="9.1" fill="#f20000"/>
<circle cx="558.8" cy="460.0" r="9.1" fill="#f20000"/>
<circle cx="558.8" cy="478.8" r="9.1" fill="#f20000"/>
<text x="241.48" y="363.75" font-size="28" fill="#000" textLength="25.86" lengthAdjust="spacingAndGlyphs">10</text>
<text x="268.82" y="355.05" font-size="18" fill="#000" textLength="8.39" lengthAdjust="spacingAndGlyphs">4</text>
<text x="285.14" y="363.75" font-size="28" fill="#000" textLength="32.90" lengthAdjust="spacingAndGlyphs">Hz</text>
<text x="130.23" y="377.50" font-size="28" fill="#1a33ff" textLength="25.86" lengthAdjust="spacingAndGlyphs">10</text>
<text x="157.57" y="368.80" font-size="18" fill="#1a33ff" textLength="8.39" lengthAdjust="spacingAndGlyphs">4</text>
<text x="173.89" y="377.50" font-size="28" fill="#1a33ff" textLength="32.90" lengthAdjust="spacingAndGlyphs">Hz</text>
<line x1="173.75" y1="385" x2="173.75" y2="435" stroke="#1a33ff" stroke-width="2.3"/>
<line x1="173.75" y1="435" x2="165.4" y2="420.8" stroke="#1a33ff" stroke-width="2.3" stroke-linecap="round"/>
<line x1="173.75" y1="435" x2="182.1" y2="420.8" stroke="#1a33ff" stroke-width="2.3" stroke-linecap="round"/>
<text x="217.73" y="448.00" font-size="28" fill="#f20000" textLength="25.86" lengthAdjust="spacingAndGlyphs">10</text>
<text x="245.07" y="439.30" font-size="18" fill="#f20000" textLength="8.39" lengthAdjust="spacingAndGlyphs">4</text>
<text x="261.39" y="448.00" font-size="28" fill="#f20000" textLength="32.90" lengthAdjust="spacingAndGlyphs">Hz</text>
<text x="207.73" y="518.75" font-size="28" fill="#1a33ff" textLength="25.86" lengthAdjust="spacingAndGlyphs">10</text>
<text x="234.54" y="510.05" font-size="18" fill="#1a33ff" textLength="9.73" lengthAdjust="spacingAndGlyphs">2</text>
<text x="251.39" y="518.75" font-size="28" fill="#1a33ff" textLength="32.90" lengthAdjust="spacingAndGlyphs">Hz</text>
<line x1="208.75" y1="512.5" x2="191.25" y2="492.5" stroke="#1a33ff" stroke-width="2.3"/>
<line x1="191.25" y1="492.5" x2="206.9" y2="497.7" stroke="#1a33ff" stroke-width="2.3" stroke-linecap="round"/>
<line x1="191.25" y1="492.5" x2="194.3" y2="508.7" stroke="#1a33ff" stroke-width="2.3" stroke-linecap="round"/>
<text x="462.73" y="355.00" font-size="28" fill="#000" textLength="25.86" lengthAdjust="spacingAndGlyphs">10</text>
<text x="489.54" y="346.30" font-size="18" fill="#000" textLength="9.73" lengthAdjust="spacingAndGlyphs">2</text>
<text x="506.39" y="355.00" font-size="28" fill="#000" textLength="32.90" lengthAdjust="spacingAndGlyphs">Hz</text>
<text x="420.23" y="415.00" font-size="28" fill="#f20000" textLength="25.86" lengthAdjust="spacingAndGlyphs">10</text>
<text x="447.04" y="406.30" font-size="18" fill="#f20000" textLength="9.73" lengthAdjust="spacingAndGlyphs">2</text>
<text x="463.89" y="415.00" font-size="28" fill="#f20000" textLength="32.90" lengthAdjust="spacingAndGlyphs">Hz</text>
<polyline points="215.0,742.5 212.5,731.2 215.0,710.0 222.0,699.0 231.7,692.7 244.6,683.3 256.6,676.8 267.8,675.5 277.7,674.7 293.6,676.8 307.3,681.1 313.3,684.1 321.0,691.9 327.1,698.7 333.0,708.0 337.5,722.5 335.0,747.5 320.0,755.0 300.0,755.0 293.8,742.5" fill="none" stroke="#1a33ff" stroke-width="5.8" stroke-dasharray="14 6" stroke-linejoin="round" stroke-linecap="butt"/>
<circle cx="212.5" cy="731.2" r="9.1" fill="#1a33ff"/>
<circle cx="215.0" cy="742.5" r="9.1" fill="#1a33ff"/>
<circle cx="277.5" cy="675.0" r="9.1" fill="#1a33ff"/>
<circle cx="335.0" cy="747.5" r="9.1" fill="#1a33ff"/>
<circle cx="300.0" cy="755.0" r="9.1" fill="#1a33ff"/>
<circle cx="293.8" cy="742.5" r="9.1" fill="#1a33ff"/>
<polyline points="325.0,740.0 326.2,720.0 331.2,710.0 337.5,690.0 352.5,672.5 372.5,653.8 402.5,641.2 436.2,642.5 450.0,646.0 484.0,660.0 506.0,674.0 522.0,689.0 531.2,699.5 542.5,685.0 560.0,660.0 587.5,643.8 625.0,632.5 648.8,637.7 667.5,637.7 701.4,654.7 723.5,678.4 737.0,702.2 742.2,715.7 744.7,723.4 747.2,741.2" fill="none" stroke="#000" stroke-width="6.0" stroke-linejoin="round" stroke-linecap="round"/>
<circle cx="326.2" cy="720.0" r="9.1" fill="#000"/>
<circle cx="325.0" cy="740.0" r="9.1" fill="#000"/>
<circle cx="436.2" cy="642.5" r="9.1" fill="#000"/>
<circle cx="531.2" cy="699.5" r="9.1" fill="#000"/>
<circle cx="648.8" cy="637.7" r="9.1" fill="#000"/>
<circle cx="744.7" cy="723.4" r="9.1" fill="#000"/>
<circle cx="747.2" cy="741.2" r="9.1" fill="#000"/>
<polyline points="267.5,742.5 268.8,730.0 275.0,720.0 290.0,712.5 305.0,706.2 312.5,710.0 335.0,702.5 351.2,696.2 365.0,677.5 390.0,655.0 415.0,637.5 425.0,631.2 450.0,622.5 477.5,618.8 501.2,626.2 525.0,630.0 550.0,641.2 572.5,660.0 587.5,680.0 597.5,702.5 602.5,721.2 605.0,742.5" fill="none" stroke="#f20000" stroke-width="6.6" stroke-dasharray="6.4 4.5" stroke-linejoin="round" stroke-linecap="butt"/>
<circle cx="267.5" cy="742.5" r="9.1" fill="#f20000"/>
<circle cx="268.8" cy="730.0" r="9.1" fill="#f20000"/>
<circle cx="312.5" cy="710.0" r="9.1" fill="#f20000"/>
<circle cx="351.2" cy="696.2" r="9.1" fill="#f20000"/>
<circle cx="501.2" cy="626.2" r="9.1" fill="#f20000"/>
<circle cx="602.5" cy="721.2" r="9.1" fill="#f20000"/>
<circle cx="605.0" cy="742.5" r="9.1" fill="#f20000"/>
<text x="155.23" y="635.00" font-size="28" fill="#1a33ff" textLength="25.86" lengthAdjust="spacingAndGlyphs">10</text>
<text x="182.57" y="626.30" font-size="18" fill="#1a33ff" textLength="8.39" lengthAdjust="spacingAndGlyphs">4</text>
<text x="198.89" y="635.00" font-size="28" fill="#1a33ff" textLength="32.90" lengthAdjust="spacingAndGlyphs">Hz</text>
<line x1="238.6" y1="642" x2="267.8" y2="667" stroke="#1a33ff" stroke-width="2.3"/>
<line x1="267.8" y1="667" x2="251.6" y2="664.1" stroke="#1a33ff" stroke-width="2.3" stroke-linecap="round"/>
<line x1="267.8" y1="667" x2="262.4" y2="651.4" stroke="#1a33ff" stroke-width="2.3" stroke-linecap="round"/>
<text x="291.48" y="627.50" font-size="28" fill="#f20000" textLength="25.86" lengthAdjust="spacingAndGlyphs">10</text>
<text x="318.82" y="618.80" font-size="18" fill="#f20000" textLength="8.39" lengthAdjust="spacingAndGlyphs">4</text>
<text x="335.14" y="627.50" font-size="28" fill="#f20000" textLength="32.90" lengthAdjust="spacingAndGlyphs">Hz</text>
<line x1="330.5" y1="635.2" x2="316.5" y2="698.5" stroke="#f20000" stroke-width="2.3"/>
<line x1="316.5" y1="698.5" x2="311.4" y2="682.8" stroke="#f20000" stroke-width="2.3" stroke-linecap="round"/>
<line x1="316.5" y1="698.5" x2="327.7" y2="686.4" stroke="#f20000" stroke-width="2.3" stroke-linecap="round"/>
<text x="397.73" y="674.00" font-size="28" fill="#000" textLength="25.86" lengthAdjust="spacingAndGlyphs">10</text>
<text x="425.07" y="665.30" font-size="18" fill="#000" textLength="8.39" lengthAdjust="spacingAndGlyphs">4</text>
<text x="441.39" y="674.00" font-size="28" fill="#000" textLength="32.90" lengthAdjust="spacingAndGlyphs">Hz</text>
<text x="183.98" y="783.75" font-size="28" fill="#1a33ff" textLength="25.86" lengthAdjust="spacingAndGlyphs">10</text>
<text x="210.79" y="775.05" font-size="18" fill="#1a33ff" textLength="9.73" lengthAdjust="spacingAndGlyphs">2</text>
<text x="227.64" y="783.75" font-size="28" fill="#1a33ff" textLength="32.90" lengthAdjust="spacingAndGlyphs">Hz</text>
<line x1="273.75" y1="770" x2="291.25" y2="755" stroke="#1a33ff" stroke-width="2.3"/>
<line x1="291.25" y1="755" x2="285.9" y2="770.6" stroke="#1a33ff" stroke-width="2.3" stroke-linecap="round"/>
<line x1="291.25" y1="755" x2="275.0" y2="757.9" stroke="#1a33ff" stroke-width="2.3" stroke-linecap="round"/>
<text x="468.98" y="610.00" font-size="28" fill="#f20000" textLength="25.86" lengthAdjust="spacingAndGlyphs">10</text>
<text x="495.79" y="601.30" font-size="18" fill="#f20000" textLength="9.73" lengthAdjust="spacingAndGlyphs">2</text>
<text x="512.64" y="610.00" font-size="28" fill="#f20000" textLength="32.90" lengthAdjust="spacingAndGlyphs">Hz</text>
<text x="611.48" y="625.00" font-size="28" fill="#000" textLength="25.86" lengthAdjust="spacingAndGlyphs">10</text>
<text x="638.29" y="616.30" font-size="18" fill="#000" textLength="9.73" lengthAdjust="spacingAndGlyphs">2</text>
<text x="655.14" y="625.00" font-size="28" fill="#000" textLength="32.90" lengthAdjust="spacingAndGlyphs">Hz</text>
<polyline points="353.8,988.8 367.5,970.0 381.2,951.2 390.0,937.5 405.0,920.0 420.0,907.5 442.5,892.5 467.5,880.0 487.5,872.5 517.5,867.5 542.5,866.2 561.2,872.5 580.0,877.5 605.0,890.0 633.0,909.4 642.5,923.4 651.9,937.5 659.7,950.0 667.5,967.2 670.6,981.2" fill="none" stroke="#f20000" stroke-width="6.6" stroke-dasharray="6.4 4.5" stroke-linejoin="round" stroke-linecap="butt"/>
<circle cx="323.8" cy="1003.8" r="9.1" fill="#f20000"/>
<circle cx="332.5" cy="993.8" r="9.1" fill="#f20000"/>
<circle cx="353.8" cy="988.8" r="9.1" fill="#f20000"/>
<circle cx="381.2" cy="951.2" r="9.1" fill="#f20000"/>
<circle cx="561.2" cy="872.5" r="9.1" fill="#f20000"/>
<circle cx="670.6" cy="981.2" r="9.1" fill="#f20000"/>
<circle cx="673.8" cy="1003.1" r="9.1" fill="#f20000"/>
<polyline points="654.2,1005.5 648.8,993.8 647.2,982.8 650.3,968.8 655.8,956.2 664.4,945.3 676.9,934.4 692.5,925.8 708.1,921.1 717.5,920.3 733.1,921.1 748.8,925.0 767.5,932.8 781.6,943.8 794.0,957.8 801.9,973.4 806.6,990.6 806.6,1003.1 801.9,1016.4 790.9,1026.6 778.4,1033.6 764.4,1037.5 751.9,1036.7 739.4,1029.7 731.6,1020.3 728.4,1006.2" fill="none" stroke="#1a33ff" stroke-width="5.8" stroke-dasharray="14 6" stroke-linejoin="round" stroke-linecap="butt"/>
<circle cx="648.8" cy="993.8" r="9.1" fill="#1a33ff"/>
<circle cx="654.2" cy="1005.5" r="9.1" fill="#1a33ff"/>
<circle cx="733.1" cy="921.1" r="9.1" fill="#1a33ff"/>
<circle cx="801.9" cy="1016.4" r="9.1" fill="#1a33ff"/>
<circle cx="739.4" cy="1029.7" r="9.1" fill="#1a33ff"/>
<circle cx="728.4" cy="1006.2" r="9.1" fill="#1a33ff"/>
<polyline points="826.5,1002.9 829.0,984.0 829.0,974.3 835.6,957.0 847.9,938.7 871.3,919.9 899.8,904.0 905.0,903.8 925.0,903.8 935.0,905.5 947.5,903.8 977.6,915.0 1000.7,930.0 1028.2,962.5 1037.5,947.5 1060.0,922.5 1087.5,903.8 1126.2,895.3 1147.8,897.2 1167.5,898.1 1203.1,918.8 1223.8,935.6 1235.0,954.4 1242.5,976.9 1243.4,986.2 1246.2,1004.1" fill="none" stroke="#000" stroke-width="6.0" stroke-linejoin="round" stroke-linecap="round"/>
<circle cx="829.0" cy="984.0" r="9.1" fill="#000"/>
<circle cx="826.5" cy="1002.9" r="9.1" fill="#000"/>
<circle cx="935.0" cy="905.5" r="9.1" fill="#000"/>
<circle cx="1028.2" cy="962.5" r="9.1" fill="#000"/>
<circle cx="1147.8" cy="897.2" r="9.1" fill="#000"/>
<circle cx="1243.4" cy="986.2" r="9.1" fill="#000"/>
<circle cx="1246.2" cy="1004.1" r="9.1" fill="#000"/>
<text x="518.98" y="855.00" font-size="28" fill="#f20000" textLength="25.86" lengthAdjust="spacingAndGlyphs">10</text>
<text x="545.79" y="846.30" font-size="18" fill="#f20000" textLength="9.73" lengthAdjust="spacingAndGlyphs">2</text>
<text x="562.64" y="855.00" font-size="28" fill="#f20000" textLength="32.90" lengthAdjust="spacingAndGlyphs">Hz</text>
<text x="370.23" y="1047.50" font-size="28" fill="#f20000" textLength="25.86" lengthAdjust="spacingAndGlyphs">10</text>
<text x="397.57" y="1038.80" font-size="18" fill="#f20000" textLength="8.39" lengthAdjust="spacingAndGlyphs">4</text>
<text x="413.89" y="1047.50" font-size="28" fill="#f20000" textLength="32.90" lengthAdjust="spacingAndGlyphs">Hz</text>
<line x1="377.5" y1="1022.5" x2="360" y2="997.5" stroke="#f20000" stroke-width="2.3"/>
<line x1="360" y1="997.5" x2="375.0" y2="1004.4" stroke="#f20000" stroke-width="2.3" stroke-linecap="round"/>
<line x1="360" y1="997.5" x2="361.3" y2="1013.9" stroke="#f20000" stroke-width="2.3" stroke-linecap="round"/>
<text x="697.73" y="910.00" font-size="28" fill="#1a33ff" textLength="25.86" lengthAdjust="spacingAndGlyphs">10</text>
<text x="725.07" y="901.30" font-size="18" fill="#1a33ff" textLength="8.39" lengthAdjust="spacingAndGlyphs">4</text>
<text x="741.39" y="910.00" font-size="28" fill="#1a33ff" textLength="32.90" lengthAdjust="spacingAndGlyphs">Hz</text>
<text x="633.98" y="1052.50" font-size="28" fill="#1a33ff" textLength="25.86" lengthAdjust="spacingAndGlyphs">10</text>
<text x="660.79" y="1043.80" font-size="18" fill="#1a33ff" textLength="9.73" lengthAdjust="spacingAndGlyphs">2</text>
<text x="677.64" y="1052.50" font-size="28" fill="#1a33ff" textLength="32.90" lengthAdjust="spacingAndGlyphs">Hz</text>
<line x1="715" y1="1045" x2="732.5" y2="1033.75" stroke="#1a33ff" stroke-width="2.3"/>
<line x1="732.5" y1="1033.75" x2="725.0" y2="1048.5" stroke="#1a33ff" stroke-width="2.3" stroke-linecap="round"/>
<line x1="732.5" y1="1033.75" x2="716.0" y2="1034.4" stroke="#1a33ff" stroke-width="2.3" stroke-linecap="round"/>
<text x="890.23" y="888.75" font-size="28" fill="#000" textLength="25.86" lengthAdjust="spacingAndGlyphs">10</text>
<text x="917.57" y="880.05" font-size="18" fill="#000" textLength="8.39" lengthAdjust="spacingAndGlyphs">4</text>
<text x="933.89" y="888.75" font-size="28" fill="#000" textLength="32.90" lengthAdjust="spacingAndGlyphs">Hz</text>
<text x="1104.33" y="882.20" font-size="28" fill="#000" textLength="25.86" lengthAdjust="spacingAndGlyphs">10</text>
<text x="1131.14" y="873.50" font-size="18" fill="#000" textLength="9.73" lengthAdjust="spacingAndGlyphs">2</text>
<text x="1147.99" y="882.20" font-size="28" fill="#000" textLength="32.90" lengthAdjust="spacingAndGlyphs">Hz</text>
</svg></div></body></html>
